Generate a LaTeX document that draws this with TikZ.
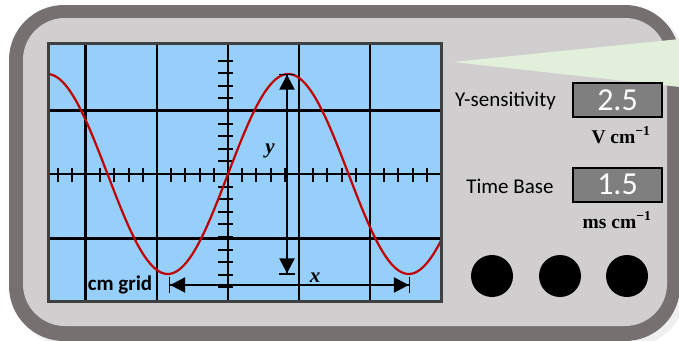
\documentclass[tikz,border=0pt]{standalone}
\usepackage{fontspec}
\setmainfont{Carlito}
\newfontfamily\serifb{Liberation Serif}
\usetikzlibrary{arrows.meta}
\definecolor{framedark}{HTML}{767170}
\definecolor{framelight}{HTML}{D0CECE}
\definecolor{screenblue}{HTML}{97CFFB}
\definecolor{screenedge}{HTML}{404040}
\definecolor{wave}{HTML}{C00000}
\definecolor{wedge}{HTML}{E2EFDA}
\definecolor{dispgray}{HTML}{7F7F7F}
\definecolor{shadowgray}{HTML}{EFEFEF}
\begin{document}
\begin{tikzpicture}[x=1pt,y=-1pt,
  gridline/.style={line width=2.2pt, black},
  tickmark/.style={line width=2pt, black},
  dimarrow/.style={line width=2.5pt, black,
    {Bar[width=16pt,line width=1.2pt]Triangle[length=15pt,width=15pt]}-{Triangle[length=15pt,width=15pt]Bar[width=16pt,line width=1.2pt]}},
  lbl/.style={font=\fontsize{21}{24}\selectfont, inner sep=0pt, anchor=base},
  unitlbl/.style={font=\serifb\bfseries\fontsize{19.5}{22}\selectfont, inner sep=0pt, anchor=base},
  varlbl/.style={font=\serifb\bfseries\itshape\fontsize{21}{24}\selectfont, inner sep=0pt, anchor=base},
  dispbox/.style={draw=black, line width=2pt, fill=dispgray, minimum width=89pt, minimum height=34pt,
    inner sep=0pt, text=white, font=\fontsize{32}{36}\selectfont},
  knob/.style={circle, fill=black, minimum size=42pt, inner sep=0pt}]
\useasboundingbox (0,0) rectangle (679,340);
\clip (0,0) rectangle (679,340);
% case
\fill[shadowgray, rounded corners=55pt] (14,10) rectangle (686,346);
\fill[framedark, rounded corners=55pt] (9,5) rectangle (680,341);
\fill[framelight, rounded corners=42pt] (23,18) rectangle (667,326);
% screen
\fill[screenblue] (48,43) rectangle (441,301);
\foreach \gx in {85.5,157,299,370} \draw[gridline] (\gx,43) -- (\gx,301);
\foreach \gy in {110.5,238.5} \draw[gridline] (48,\gy) -- (441,\gy);
\draw[gridline] (228,43) -- (228,301);
\draw[gridline] (48,174) -- (441,174);
\foreach \k in {-12,...,14} \draw[tickmark] ({228+14.2*\k},168) -- ({228+14.2*\k},182);
\foreach \k in {-9,...,9} \draw[tickmark] (218,{174+12.6*\k}) -- (233,{174+12.6*\k});
% wave
\draw[wave, line width=2.2pt, smooth] plot[domain=48:441, samples=160] (\x,{174-100*sin(1.49378*(\x-228))});
% dimension arrows
\coordinate (ytop) at (287,73.5);
\coordinate (ybot) at (287,274.5);
\coordinate (xleft) at (169,285);
\coordinate (xright) at (410,285);
\draw[dimarrow] (ytop) -- (ybot);
\draw[dimarrow] (xleft) -- (xright);
\node[varlbl] (ylab) at (270,153) {y};
\node[varlbl] (xlab) at (315,282) {x};
\node[lbl, font=\bfseries\fontsize{21}{24}\selectfont] (grid) at (120,290) {cm grid};
\draw[line width=3pt, screenedge] (48,43) rectangle (441,301);
% wedge
\fill[wedge] (453,62) -- (680,39) -- (680,87) -- cycle;
% controls
\node[lbl] (ysens) at (505.5,106) {Y-sensitivity};
\node[dispbox] (ybox) at (617.5,100) {2.5};
\node[unitlbl] (yunit) at (621,143) {V cm\textsuperscript{−1}};
\node[lbl] (tbase) at (510,193) {Time Base};
\node[dispbox] (tbox) at (617.5,184.5) {1.5};
\node[unitlbl] (tunit) at (617,228) {ms cm\textsuperscript{−1}};
\node[knob] (k1) at (492,276) {};
\node[knob] (k2) at (560,276) {};
\node[knob] (k3) at (627,276) {};
\end{tikzpicture}
\end{document}
